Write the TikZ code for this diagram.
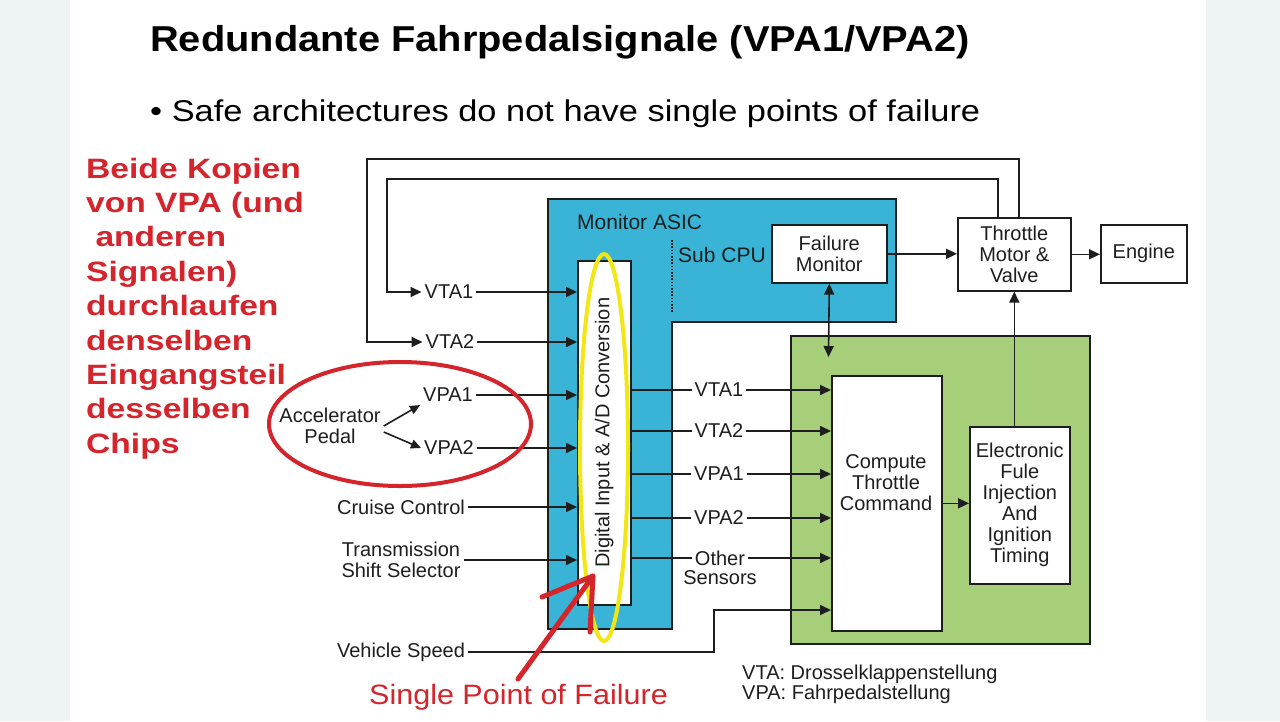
\documentclass[tikz,border=0pt]{standalone}
\usepackage{fontspec}
\setmainfont{Liberation Sans}
\usetikzlibrary{arrows.meta}
\definecolor{asicblue}{RGB}{58,180,214}
\definecolor{ecugreen}{RGB}{167,207,122}
\definecolor{markred}{RGB}{212,36,44}
\definecolor{markyellow}{RGB}{242,230,20}
\definecolor{edgegray}{RGB}{238,243,244}
\definecolor{ink}{RGB}{30,30,30}
\begin{document}
\begin{tikzpicture}[x=1pt,y=-1pt,
  lbl/.style={font=\fontsize{20}{21}\selectfont, inner sep=3pt, align=center, text=ink},
  blk/.style={draw=ink, line width=1.6pt, fill=white, inner sep=0pt, anchor=north west,
              font=\fontsize{20}{21}\selectfont, align=center, text=ink},
  wire/.style={draw=ink, line width=1.6pt},
  arr/.style={wire, -{Triangle[length=11pt,width=10pt]}},
  sarr/.style={wire, -{Triangle[length=10pt,width=9pt]}},
  dblarr/.style={wire, {Triangle[length=11pt,width=10pt]}-{Triangle[length=11pt,width=10pt]}},
  redmark/.style={draw=markred, line width=4pt},
  redarrow/.style={draw=markred, line width=5pt, line cap=round, line join=round},
  yellowmark/.style={draw=markyellow, line width=4pt}]
% background
\useasboundingbox (0,0) rectangle (1280,721);
\fill[white] (0,0) rectangle (1280,721);
\fill[edgegray] (0,0) rectangle (70,721);
\fill[edgegray] (1206,0) rectangle (1280,721);

% title and bullet
\node[anchor=base west, inner sep=0pt, font=\fontsize{36}{40}\selectfont\bfseries] (title) at (150,51)
  {\scalebox{1.106}[1]{Redundante Fahrpedalsignale (VPA1/VPA2)}};
\node[anchor=base west, inner sep=0pt, font=\fontsize{30}{34}\selectfont] (bullet) at (150,121)
  {\scalebox{1.146}[1]{• Safe architectures do not have single points of failure}};

% red note
\node[anchor=north west, inner sep=0pt, text=markred, font=\fontsize{28}{34.4}\selectfont\bfseries] (note) at (86,153.9)
  {\scalebox{1.2}[1]{\begin{tabular}{@{}l@{}}Beide Kopien\\von VPA (und\\\ anderen\\Signalen)\\durchlaufen\\denselben\\Eingangsteil\\desselben\\Chips\end{tabular}}};

% Monitor ASIC (blue L-shape)
\draw[fill=asicblue, draw=ink, line width=1.6pt]
  (548,199) -- (896,199) -- (896,322) -- (672,322) -- (672,629) -- (548,629) -- cycle;
\node[anchor=west, inner sep=0pt, font=\fontsize{21}{22}\selectfont, text=ink] (asic) at (577,222) {Monitor ASIC};
\node[anchor=west, inner sep=0pt, font=\fontsize{21}{22}\selectfont, text=ink] (subcpu) at (678,255) {Sub CPU};
\coordinate (subtop) at (672,240);
\coordinate (subbot) at (672,313);
\draw[ink, line width=1.8pt, dash pattern=on 1.6pt off 1.6pt] (subtop) -- (subbot);

% ECU (green)
\node[draw=ink, line width=1.6pt, fill=ecugreen, anchor=north west, inner sep=0pt,
      minimum width=299pt, minimum height=308pt] (ecu) at (790,335) {};

% blocks
\node[blk, minimum width=53pt, minimum height=344pt] (dig) at (577,260) {};
\node[lbl, rotate=90] (digtxt) at (dig.center) {Digital Input \& A/D Conversion};
\node[blk, minimum width=115pt, minimum height=58pt] (fm) at (771,224) {Failure\\Monitor};
\node[blk, minimum width=113pt, minimum height=73pt] (thr) at (957,217) {Throttle\\Motor \&\\Valve};
\node[blk, minimum width=86pt, minimum height=58pt] (eng) at (1100,224) {Engine};
\node[blk, minimum width=110pt, minimum height=255pt] (cmp) at (831,375) {};
\node[lbl] (cmptxt) at (886,483) {Compute\\Throttle\\Command};
\node[blk, minimum width=100pt, minimum height=157pt] (efi) at (969,426) {Electronic\\Fule\\Injection\\And\\Ignition\\Timing};

% input labels
\node[lbl] (inVTA1) at (449,292) {VTA1};
\node[lbl] (inVTA2) at (450,342) {VTA2};
\node[lbl] (inVPA1) at (448,395) {VPA1};
\node[lbl] (inVPA2) at (449,448) {VPA2};
\node[lbl] (acc) at (330,426) {Accelerator\\Pedal};
\node[lbl] (cc) at (401,507) {Cruise Control};
\node[lbl] (tss) at (401,560) {Transmission\\Shift Selector};
\node[lbl] (vs) at (401,652) {Vehicle Speed};

% output labels
\node[lbl] (oVTA1) at (719,390) {VTA1};
\node[lbl] (oVTA2) at (719,431) {VTA2};
\node[lbl] (oVPA1) at (719,474) {VPA1};
\node[lbl] (oVPA2) at (719,518) {VPA2};
\node[lbl] (oOth) at (720,558) {Other};
\node[lbl] (oSen) at (720,578) {Sensors};

% legend
\node[anchor=base west, inner sep=0pt, font=\fontsize{20}{21}\selectfont, text=ink] (leg1) at (742,679) {VTA: Drosselklappenstellung};
\node[anchor=base west, inner sep=0pt, font=\fontsize{20}{21}\selectfont, text=ink] (leg2) at (742,699) {VPA: Fahrpedalstellung};

% feedback loops from throttle
\coordinate (lpO) at (367,159);
\coordinate (lpI) at (387,179);
\draw[arr] ([xshift=4.5pt]thr.north) |- (lpO) |- (inVTA2.west);
\draw[arr] ([xshift=-16.5pt]thr.north) |- (lpI) |- (inVTA1.west);

% pedal arrows
\draw[sarr] (acc.east) -- (inVPA1.south west);
\draw[sarr] ([yshift=-6pt]acc.east) -- (inVPA2.west);

% inputs into digital input block
\foreach \n in {inVTA1,inVTA2,inVPA1,inVPA2,cc,tss}
  \draw[arr] (\n.east) -- (\n -| dig.west);

% outputs to compute block
\foreach \n in {oVTA1,oVTA2,oVPA1,oVPA2,oOth}{
  \draw[wire] (dig.east |- \n) -- (\n.west);
  \draw[arr] (\n.east) -- (\n -| cmp.west);
}

% vehicle speed
\coordinate (vsb) at (714,610);
\draw[arr] (vs.east) -| (vsb) -- (vsb -| cmp.west);

% other connectors
\coordinate (fmlow) at (828.5,357);
\draw[dblarr] (fm.south) -- (fmlow);
\draw[arr] (fm.east) -- (fm.east -| thr.west);
\draw[arr] (thr.east) -- (thr.east -| eng.west);
\draw[arr] (cmp.east) -- (cmp.east -| efi.west);
\draw[arr] (efi.north -| thr.south) -- (thr.south);

% annotations
\node[draw=none, inner sep=0pt] (yell) at (604,447.5) {};
\draw[yellowmark] (yell) ellipse [x radius=24pt, y radius=193.5pt];
\node[draw=none, inner sep=0pt] (redell) at (400,424) {};
\draw[redmark] (redell) ellipse [x radius=131pt, y radius=62pt];

\coordinate (spTail) at (518,679);
\coordinate (spTip) at (593,576);
\coordinate (spB1) at (542,597);
\coordinate (spB2) at (590,632);
\draw[redarrow] (spTail) -- (spTip);
\draw[redarrow] (spB1) -- (spTip) -- (spB2);
\node[anchor=base west, inner sep=0pt, text=markred, font=\fontsize{28}{32}\selectfont] (spof) at (369,704)
  {\scalebox{1.09}[1]{Single Point of Failure}};
\end{tikzpicture}
\end{document}
